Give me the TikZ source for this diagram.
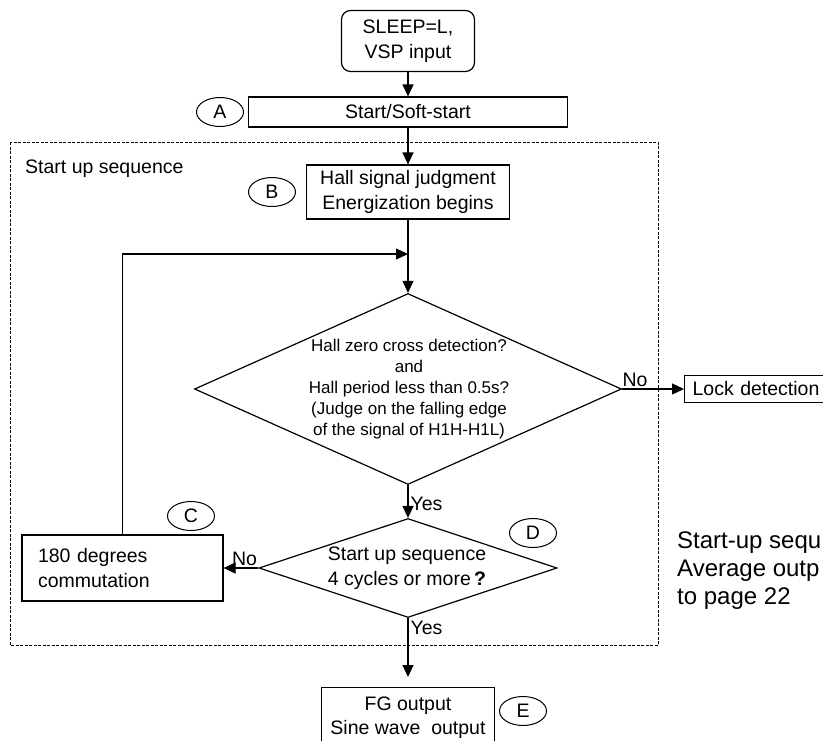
\documentclass[tikz,border=0pt]{standalone}
\usepackage{fontspec}
\setmainfont{Liberation Sans}
\usetikzlibrary{shapes.geometric,arrows.meta}

\newcommand\flowfont{\fontsize{19.5}{24.5}\selectfont}
\newcommand\checkfont{\fontsize{17}{21}\selectfont}
\newcommand\notefont{\fontsize{24}{28}\selectfont}

\begin{document}
\begin{tikzpicture}[x=1pt, y=-1pt,
    every node/.style={font=\flowfont},
    process/.style={draw, line width=1.2pt, inner sep=0pt, align=center},
    decision/.style={diamond, draw, line width=1.2pt, inner sep=0pt},
    tag/.style={ellipse, draw, line width=1pt, inner sep=0pt, minimum width=47pt, minimum height=29pt},
    flow/.style={draw, line width=1.2pt, -{Triangle[length=12pt, width=11pt]}},
    groupbox/.style={draw, line width=1pt, dash pattern=on 3pt off 1.5pt},
    answer/.style={inner sep=2pt}
]
\useasboundingbox (0,0) rectangle (823,740);

% Start
\node[process, rounded corners=9pt, minimum width=133pt, minimum height=61pt] (sleep) at (408,41) {SLEEP=L,\\VSP input};
\node[process, minimum width=319pt, minimum height=30pt] (soft) at (408,112) {Start/Soft-start};
\node[tag] (tagA) at (220,112) {A};

% Start up sequence group
\draw[groupbox] (10,142) rectangle (658,645);
\node[anchor=north west, inner sep=0pt] (seqtitle) at (25,160) {Start up sequence};

\node[process, minimum width=203pt, minimum height=54pt] (judge) at (408,192) {Hall signal judgment\\Energization begins};
\node[tag] (tagB) at (272,192) {B};

\node[decision, minimum width=427pt, minimum height=191pt] (zc) at (408,389) {};
\node[align=center, font=\checkfont, inner sep=0pt] (zctext) at (409,389) {Hall zero cross detection?\\and\\Hall period less than 0.5s?\\(Judge on the falling edge\\of the signal of H1H-H1L)};

\node[process, anchor=west, minimum height=27pt, text width=134pt, inner xsep=8pt, align=left] (lock) at (684,389) {Lock detection};

\node[decision, minimum width=298pt, minimum height=99pt] (cyc) at (408,568) {};
\node[align=center, inner sep=0pt] (cyctext) at (407,568) {Start up sequence\\4 cycles or more\,\textbf{?}};
\node[tag] (tagD) at (533,533) {D};

\node[process, minimum height=66pt, text width=169pt, inner xsep=16pt, align=left] (commut) at (122.5,568) {180 degrees\\commutation};
\node[tag] (tagC) at (191,516) {C};

% Output
\node[process, anchor=north, minimum width=173pt, minimum height=60pt] (fg) at (408,687) {FG output\\Sine wave\ \ output};
\node[tag] (tagE) at (523,711) {E};

\node[anchor=north west, align=left, font=\notefont, inner sep=0pt] (note) at (677,532) {Start-up sequ\\Average outp\\to page 22};

% Connectors
\coordinate (loopin) at (408,254);
\draw[flow] (sleep) -- (soft);
\draw[flow] (soft) -- (judge);
\draw[flow] (judge) -- (zc);
\draw[flow] (commut.north) |- (loopin);
\draw[flow] (zc.east) -- node[answer, pos=.21, above] {No} (lock.west);
\draw[flow] (zc) -- node[answer, pos=.56, right] {Yes} (cyc);
\draw[flow] (cyc.west) -- node[answer, pos=.4, above] {No} (commut.east);
\draw[flow, shorten >=10pt] (cyc) -- node[answer, pos=0, anchor=north west] {Yes} (fg);

\end{tikzpicture}
\end{document}
